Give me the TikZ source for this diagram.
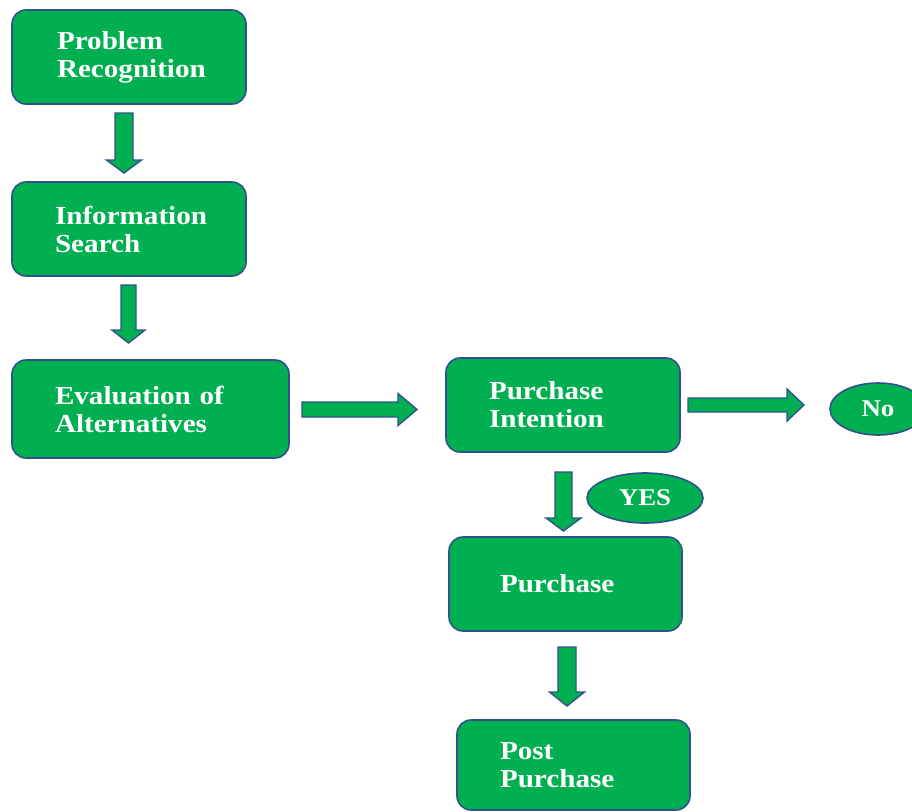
\documentclass[tikz,border=0pt]{standalone}
\usepackage{fontspec}
\newfontfamily\lblfont{Liberation Serif}[FakeStretch=1.12]
\usetikzlibrary{calc,shapes.geometric}
\definecolor{boxgreen}{HTML}{00B050}
\definecolor{boxborder}{HTML}{2F528F}
\tikzset{
  stagebox/.style={draw=boxborder, line width=1.6pt, fill=boxgreen, text=white,
    rounded corners=14pt, align=left, inner ysep=0pt,
    font=\lblfont\bfseries\fontsize{26}{28}\selectfont},
  answer/.style={ellipse, draw=boxborder, line width=1.6pt, fill=boxgreen, text=white,
    inner sep=0pt, font=\lblfont\bfseries\fontsize{24}{26}\selectfont},
  blk/.style={draw=boxborder, line width=1.4pt, fill=boxgreen, line join=miter}
}
% vertical block arrow: start, tip, shaft half, head half, head length
\newcommand\blkdown[5]{%
  \draw[blk] let \p1=(#1), \p2=(#2) in
    (\x1-#3pt,\y1) -- (\x1+#3pt,\y1) -- (\x1+#3pt,\y2+#5pt) -- (\x1+#4pt,\y2+#5pt)
    -- (\x1,\y2) -- (\x1-#4pt,\y2+#5pt) -- (\x1-#3pt,\y2+#5pt) -- cycle;}
% horizontal block arrow
\newcommand\blkright[5]{%
  \draw[blk] let \p1=(#1), \p2=(#2) in
    (\x1,\y1+#3pt) -- (\x1,\y1-#3pt) -- (\x2-#5pt,\y1-#3pt) -- (\x2-#5pt,\y1-#4pt)
    -- (\x2,\y1) -- (\x2-#5pt,\y1+#4pt) -- (\x2-#5pt,\y1+#3pt) -- cycle;}
\begin{document}
\begin{tikzpicture}[x=1pt,y=-1pt]
\useasboundingbox (0,0) rectangle (912,811);
\fill[white] (0,0) rectangle (912,811);
\clip (0,0) rectangle (912,811);

\node[stagebox, text width=144pt, inner xsep=45pt, minimum height=94pt] (b1) at (129,57) {Problem\\Recognition};
\node[stagebox, text width=148pt, inner xsep=43pt, minimum height=94pt] (b2) at (129,229) {Information\\Search};
\node[stagebox, text width=191pt, inner xsep=43pt, minimum height=98pt] (b3) at (150.5,409) {Evaluation of\\Alternatives};
\node[stagebox, text width=148pt, inner xsep=43pt, minimum height=94pt] (b4) at (563,405) {Purchase\\Intention};
\node[stagebox, text width=131pt, inner xsep=51pt, minimum height=94pt] (b5) at (565.5,584) {Purchase};
\node[stagebox, text width=147pt, inner xsep=43pt, minimum height=90pt] (b6) at (573.5,765) {Post\\Purchase};

\node[answer, minimum width=96pt, minimum height=52pt] (no) at (878,409) {No};
\node[answer, minimum width=116pt, minimum height=50pt] (yes) at (645,498) {YES};

\coordinate (s1) at (124,113);   \coordinate (t1) at (124,173);
\coordinate (s2) at (128.5,285); \coordinate (t2) at (128.5,343);
\coordinate (s3) at (302,409.5); \coordinate (t3) at (417,409.5);
\coordinate (s4) at (688,405);   \coordinate (t4) at (804,405);
\coordinate (s5) at (563.5,472); \coordinate (t5) at (563.5,531);
\coordinate (s6) at (567,647);   \coordinate (t6) at (567,706);

\blkdown{s1}{t1}{9}{17.5}{13}
\blkdown{s2}{t2}{7.5}{16.5}{13}
\blkright{s3}{t3}{7.5}{16}{19}
\blkright{s4}{t4}{7}{16}{17}
\blkdown{s5}{t5}{8.5}{17.5}{13}
\blkdown{s6}{t6}{9}{17.5}{14}
\end{tikzpicture}
\end{document}
